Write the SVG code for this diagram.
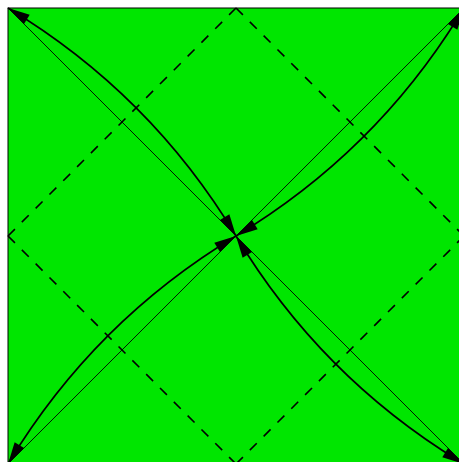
<svg xmlns="http://www.w3.org/2000/svg" width="459" height="462" viewBox="0 0 459 462">
  <style>
    .bg { fill: #00e600; stroke: #000; stroke-width: 1; }
    .dash { stroke: #000; stroke-width: 1.6; stroke-dasharray: 9.77 9.77; fill: none; }
    .thin { stroke: #000; stroke-width: 0.9; fill: none; }
    .arc { stroke: #000; stroke-width: 1.7; fill: none; marker-start: url(#ah); marker-end: url(#ah); }
  </style>
  <defs>
    <marker id="ah" markerUnits="userSpaceOnUse" viewBox="-24 -7 26 14" refX="0" refY="0" markerWidth="26" markerHeight="14" orient="auto-start-reverse" overflow="visible">
      <path d="M0,0 L-22,-5.5 L-22,5.5 Z" fill="#000"/>
    </marker>
  </defs>
  <g id="square">
    <rect class="bg" x="8" y="8" width="456" height="456"/>
  </g>
  <g id="diamond">
    <line class="dash" x1="236" y1="8" x2="464" y2="236"/>
    <line class="dash" x1="464" y1="236" x2="236" y2="464"/>
    <line class="dash" x1="236" y1="464" x2="8" y2="236"/>
    <line class="dash" x1="8" y1="236" x2="236" y2="8"/>
  </g>
  <g id="connectors">
    <line class="thin" x1="8" y1="8" x2="236" y2="236"/>
    <line class="thin" x1="464" y1="8" x2="236" y2="236"/>
    <line class="thin" x1="464" y1="464" x2="236" y2="236"/>
    <line class="thin" x1="8" y1="464" x2="236" y2="236"/>
    <path class="arc" d="M8,8 Q150.3,93.7 236,236"/>
    <path class="arc" d="M464,8 Q378.3,150.3 236,236"/>
    <path class="arc" d="M464,464 Q321.7,378.3 236,236"/>
    <path class="arc" d="M8,464 Q93.7,321.7 236,236"/>
  </g>
</svg>
